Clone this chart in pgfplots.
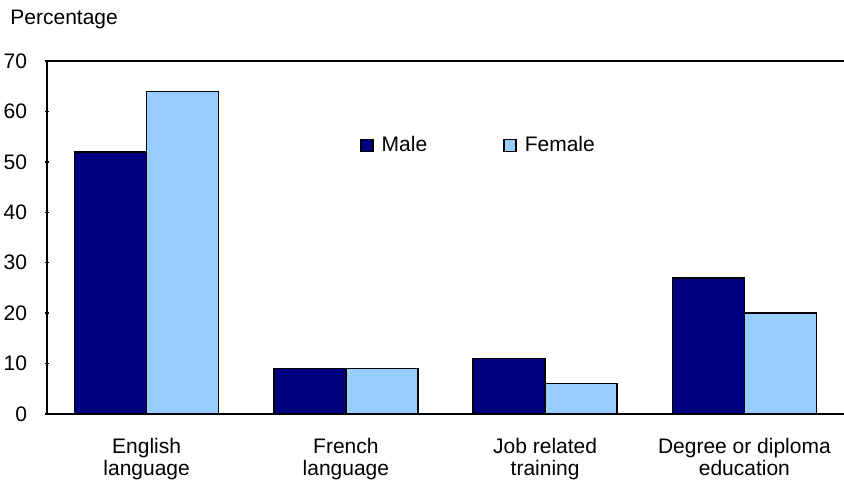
\documentclass[border=0pt]{standalone}
\usepackage{pgfplots}
\pgfplotsset{compat=1.18}
\usepackage{fontspec}
\setmainfont{Liberation Sans}
\definecolor{maleblue}{HTML}{000080}
\definecolor{femaleblue}{HTML}{99CCFF}
\begin{document}
\begin{tikzpicture}
\begin{axis}[
  name=ax,
  scale only axis,
  width=398.5pt, height=176.5pt,
  font=\fontsize{10.5}{11}\selectfont,
  /pgf/number format/assume math mode=true,
  ybar=0pt, bar width=36pt,
  xmin=-0.5, xmax=3.5,
  ymin=0, ymax=70,
  ytick={0,10,...,70},
  xtick={0,1,2,3},
  xticklabels={English\\language, French\\language, Job related\\training, Degree or diploma\\education},
  xticklabel style={align=center, yshift=-7.5pt},
  yticklabel style={xshift=-5.5pt},
  major x tick style={draw=none},
  major tick length=2pt,
  tick style={black, line width=0.75pt},
  axis lines=left,
  axis line style={-, black, line width=1pt},
  legend style={draw=none, fill=none, at={(0.385,0.76)}, anchor=west,
    legend columns=2, /tikz/every even column/.append style={column sep=36pt}},
  legend image code/.code={\draw[#1] (0pt,-3pt) rectangle (6pt,3pt); \path (8pt,0pt);},
  clip=false,
]
\addplot[fill=maleblue, draw=black, line width=0.75pt] coordinates {(0,52) (1,9) (2,11) (3,27)};
\addplot[fill=femaleblue, draw=black, line width=0.75pt] coordinates {(0,64) (1,9) (2,6) (3,20)};
\legend{Male, Female}
\draw[black, line width=1pt] (rel axis cs:0,1) -- (rel axis cs:1,1);
\node[anchor=base west, inner sep=0pt, xshift=-18.5pt, yshift=18pt] at (rel axis cs:0,1) {Percentage};
\end{axis}
\pgfresetboundingbox
\path[use as bounding box] ([xshift=-23.5pt, yshift=-35.5pt]ax.south west) rectangle ([yshift=30.5pt]ax.north east);
\end{tikzpicture}
\end{document}
